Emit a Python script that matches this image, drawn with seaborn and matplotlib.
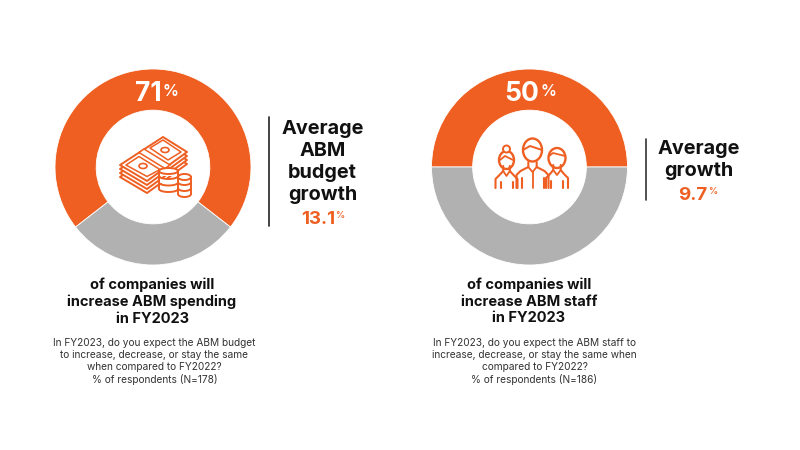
import matplotlib
matplotlib.use("Agg")
import matplotlib.pyplot as plt
import seaborn as sns
from matplotlib.patches import Circle, Ellipse, Polygon, Arc

# chart values
increase_share = [71, 50]
other_share = [29, 50]
pct_labels = ["71", "50"]
side_titles = ["Average\nABM\nbudget\ngrowth", "Average\ngrowth"]
side_values = ["13.1", "9.7"]
headings = [
    "of companies will\nincrease ABM spending\nin FY2023",
    "of companies will\nincrease ABM staff\nin FY2023",
]
questions = [
    "In FY2023, do you expect the ABM budget\nto increase, decrease, or stay the same\nwhen compared to FY2022?\n% of respondents (N=178)",
    "In FY2023, do you expect the ABM staff to\nincrease, decrease, or stay the same when\ncompared to FY2022?\n% of respondents (N=186)",
]
colors = ["#EE5F21", "#B1B1B1"]

sns.set_theme(style="white")
plt.rcParams["font.family"] = ["Inter", "DejaVu Sans"]
palette = sns.color_palette(colors)
ORANGE = colors[0]
DARK = "#111111"

fig = plt.figure(figsize=(8, 4.5), dpi=100, facecolor="white")

# pixel coordinates overlay, y going down like the picture
ov = fig.add_axes([0, 0, 1, 1], zorder=3)
ov.set_xlim(0, 800)
ov.set_ylim(450, 0)
ov.axis("off")
ov.patch.set_alpha(0)


def donut(cx, cy, r, vals):
    ax = fig.add_axes([(cx - r - 2) / 800, 1 - (cy + r + 2) / 450, (2 * r + 4) / 800, (2 * r + 4) / 450])
    start = 90 - vals[0] * 3.6 / 2
    ax.pie(vals, colors=palette, startangle=start, radius=1, counterclock=True,
           wedgeprops=dict(width=0.42, linewidth=0.6, edgecolor="white"))
    lim = (r + 2) / r
    ax.set_xlim(-lim, lim)
    ax.set_ylim(-lim, lim)


def ln(xs, ys, lw=1.5):
    ov.plot(xs, ys, color=ORANGE, lw=lw, solid_capstyle="round", solid_joinstyle="round")


def poly(pts, lw=1.4):
    ov.add_patch(Polygon(pts, closed=True, fc="white", ec=ORANGE, lw=lw, joinstyle="round"))


def money_icon():
    # banknote stack as one parallelogram repeated downwards
    top = [(120, 165), (163, 137), (187, 152), (147, 181)]
    for k in (12, 8, 4):
        poly([(x, y + k) for x, y in top])
    poly(top)
    # strap across the notes
    poly([(139, 152.5), (144, 149), (170, 165), (165, 168.5)], 1.1)
    # inner outlines of the two notes
    poly([(126, 165), (139, 156.5), (160, 169.5), (147, 176.5)], 1.1)
    poly([(150, 148), (163, 140), (181, 152), (168, 160)], 1.1)
    ov.add_patch(Ellipse((143, 166), 8, 5, fc="white", ec=ORANGE, lw=1.2))
    ov.add_patch(Ellipse((165, 150), 8, 5, fc="white", ec=ORANGE, lw=1.2))
    # coins, small pile behind the big one
    for cx, w, ys in ((184.5, 13, (177, 183, 189)), (168.5, 19, (171, 177.5, 184))):
        for y in ys[::-1]:
            ov.add_patch(Polygon([(cx - w / 2, y), (cx - w / 2, y + 5), (cx + w / 2, y + 5), (cx + w / 2, y)],
                                 fc="white", ec="none"))
            ov.add_patch(Arc((cx, y + 5), w, 6, theta1=0, theta2=180, ec=ORANGE, lw=1.4))
            ln([cx - w / 2, cx - w / 2], [y, y + 5], 1.4)
            ln([cx + w / 2, cx + w / 2], [y, y + 5], 1.4)
        ov.add_patch(Ellipse((cx, ys[0]), w, 6, fc="white", ec=ORANGE, lw=1.4))


def person(cx, head_y, head_w, head_h, body_w, body_top, bottom=188):
    left, right = cx - body_w / 2, cx + body_w / 2
    neck = head_w * 0.22
    ln([left, left, left + 4, cx - neck, cx - neck], [bottom, body_top + 8, body_top + 4, body_top, body_top - 5])
    ln([right, right, right - 4, cx + neck, cx + neck], [bottom, body_top + 8, body_top + 4, body_top, body_top - 5])
    ln([left + 5, left + 5], [bottom, body_top + 11])
    ln([right - 5, right - 5], [bottom, body_top + 11])
    ln([cx - neck, cx, cx + neck], [body_top, body_top + 5, body_top], 1.3)
    ov.add_patch(Ellipse((cx, head_y), head_w, head_h, fc="white", ec=ORANGE, lw=1.7))


def people_icon():
    person(506.5, 160, 15, 18, 22, 171)
    ov.add_patch(Circle((506.5, 149), 3.5, fc="white", ec=ORANGE, lw=1.4))
    ln([500, 505, 513], [160, 156, 160], 1.3)
    person(557, 158, 17, 20, 22, 170)
    ln([549, 553, 565], [156, 153, 156], 1.3)
    person(532.5, 150, 19, 23, 32, 167)
    ln([532.5, 532.5], [172, 188], 1.3)
    ln([523, 530, 542], [150, 146, 150], 1.4)


def sup_label(x, y, big, size, color, sup_size, lift, gap):
    ov.text(x, y, big, color=color, fontsize=size, fontweight="bold", ha="right", va="center")
    ov.text(x + gap, y - lift, "%", color=color, fontsize=sup_size, fontweight="semibold", ha="left", va="center")


# left panel
donut(153, 167, 98, [increase_share[0], other_share[0]])
money_icon()
sup_label(162, 94, pct_labels[0], 19, "white", 11.5, 2.5, 0)
ov.plot([269, 269], [117, 226], color="#222222", lw=1.2)
ov.text(322.5, 162, side_titles[0], color=DARK, fontsize=14.3, fontweight="bold", ha="center", va="center",
        linespacing=1.3)
sup_label(335, 219, side_values[0], 13.5, ORANGE, 6.5, 4, 0)
ov.text(152, 301.5, headings[0], color=DARK, fontsize=10.5, fontweight="bold", ha="center", va="center",
        linespacing=1.24)
ov.text(154.5, 361.5, questions[0], color="#333333", fontsize=7.3, ha="center", va="center", linespacing=1.22)

# right panel
donut(529.5, 167, 98, [increase_share[1], other_share[1]])
people_icon()
sup_label(539, 94, pct_labels[1], 19, "white", 11.5, 2.5, 1)
ov.plot([646, 646], [139, 200], color="#333333", lw=1.2)
ov.text(699, 160, side_titles[1], color=DARK, fontsize=14.3, fontweight="bold", ha="center", va="center",
        linespacing=1.25)
sup_label(707, 195, side_values[1], 13.5, ORANGE, 6.5, 3, 1)
ov.text(529, 301.5, headings[1], color=DARK, fontsize=10.5, fontweight="bold", ha="center", va="center",
        linespacing=1.24)
ov.text(534.5, 361.5, questions[1], color="#333333", fontsize=7.3, ha="center", va="center", linespacing=1.22)

fig.savefig("out.png", dpi=100, facecolor="white")
plt.close(fig)
